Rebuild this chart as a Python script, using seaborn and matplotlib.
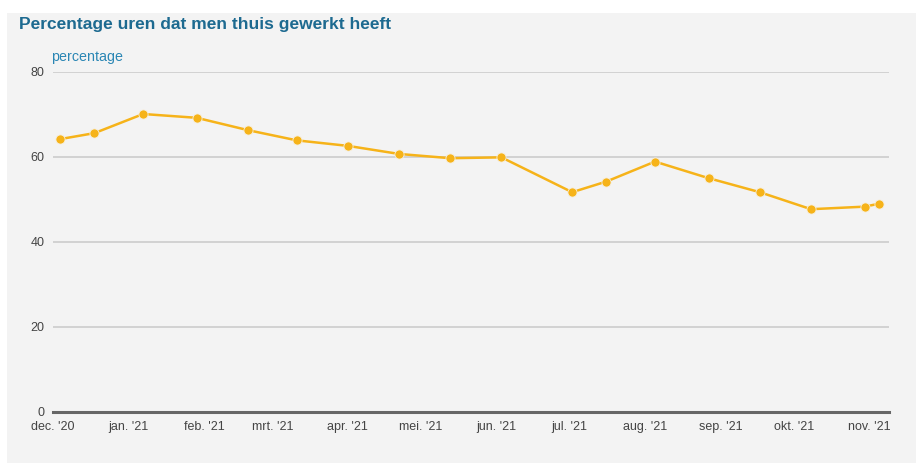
import matplotlib
matplotlib.use("Agg")
import matplotlib.pyplot as plt
from matplotlib.patches import Rectangle
import pandas as pd
import seaborn as sns

# survey dates and share of hours worked from home
dates = ["2020-12-04", "2020-12-18", "2021-01-07", "2021-01-29", "2021-02-19",
         "2021-03-11", "2021-04-01", "2021-04-22", "2021-05-13", "2021-06-03",
         "2021-07-02", "2021-07-16", "2021-08-05", "2021-08-27", "2021-09-17",
         "2021-10-08", "2021-10-30", "2021-11-05"]
values = [64.1, 65.5, 70.0, 69.1, 66.2, 63.8, 62.5, 60.6, 59.6, 59.8,
          51.6, 54.1, 58.8, 54.9, 51.6, 47.6, 48.2, 48.9]
month_ticks = ["2020-12-01", "2021-01-01", "2021-02-01", "2021-03-01", "2021-04-01",
               "2021-05-01", "2021-06-01", "2021-07-01", "2021-08-01", "2021-09-01",
               "2021-10-01", "2021-11-01"]
month_labels = ["dec. '20", "jan. '21", "feb. '21", "mrt. '21", "apr. '21", "mei. '21",
                "jun. '21", "jul. '21", "aug. '21", "sep. '21", "okt. '21", "nov. '21"]
y_ticks = [0, 20, 40, 60, 80]

df = pd.DataFrame({"datum": pd.to_datetime(dates), "percentage": values})

sns.set_style("white")
plt.rcParams["font.family"] = ["Liberation Sans", "DejaVu Sans"]

fig = plt.figure(figsize=(9.16, 4.66), dpi=100, facecolor="white")
bg = "#f3f3f3"
fig.patches.append(Rectangle((7 / 916, 3 / 466), 1 - 7 / 916, 1 - 16 / 466,
                             transform=fig.transFigure, facecolor=bg,
                             edgecolor="none", zorder=-10))
ax = fig.add_axes([53 / 916, (466 - 411.5) / 466, (889 - 53) / 916, 340 / 466])
ax.set_facecolor(bg)

sns.lineplot(data=df, x="datum", y="percentage", ax=ax, color="#f6b319",
             linewidth=1.8, marker="o", markersize=6.6,
             markeredgecolor="#f6f0e0", markeredgewidth=0.6, zorder=3)

ax.set_ylim(0, 80)
ax.set_yticks(y_ticks)
ax.set_xlim(pd.Timestamp("2020-12-01"), pd.Timestamp("2021-11-09"))
ax.set_xticks(pd.to_datetime(month_ticks))
ax.set_xticklabels(month_labels)

for y in y_ticks[1:]:
    ax.axhline(y, color="#c8c8c8", linewidth=1.1, zorder=1)

for s in ["top", "right", "left"]:
    ax.spines[s].set_visible(False)
ax.spines["bottom"].set_color("#666666")
ax.spines["bottom"].set_linewidth(2.2)
ax.spines["bottom"].set_zorder(2)

ax.tick_params(axis="x", direction="out", length=4, width=1.5, color="#666666",
               labelsize=9, labelcolor="#444444", pad=3)
ax.tick_params(axis="y", length=0, labelsize=9, labelcolor="#444444", pad=6)
ax.set_xlabel("")
ax.set_ylabel("")

fig.text(19 / 916, 1 - 25 / 466, "Percentage uren dat men thuis gewerkt heeft",
         fontsize=12.5, fontweight="bold", color="#1d6a90", va="center", ha="left")
fig.text(51 / 916, 1 - 57 / 466, "percentage", fontsize=10.3, color="#2a86b4",
         va="center", ha="left")

fig.savefig("out.png", dpi=100, facecolor="white")
